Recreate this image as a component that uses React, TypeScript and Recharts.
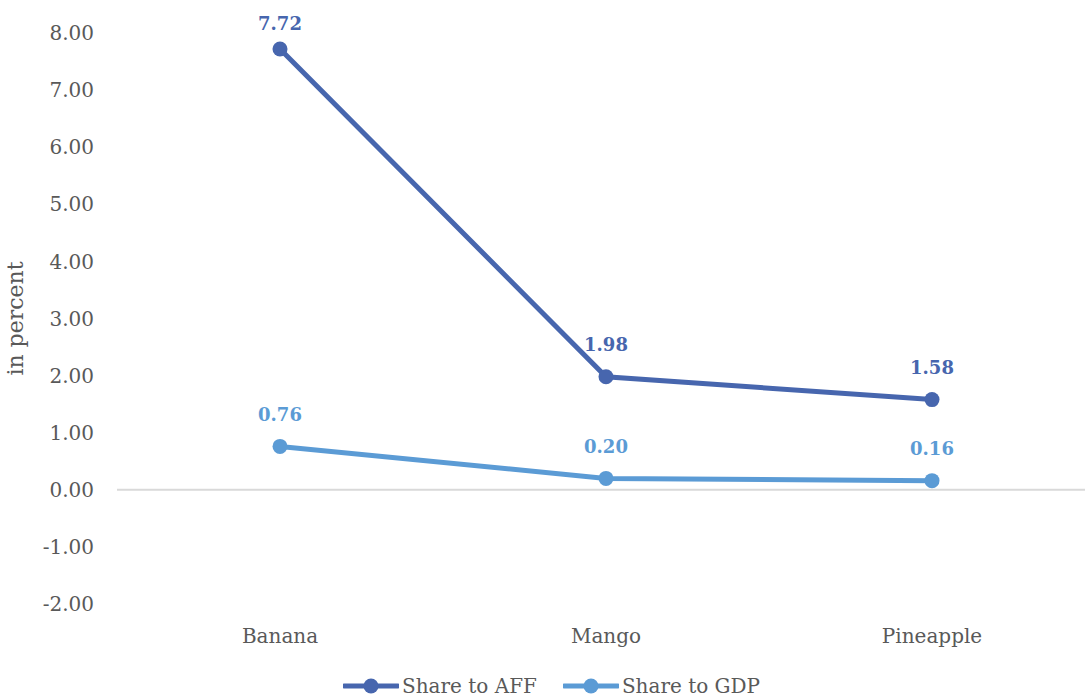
import { LineChart, Line, XAxis, YAxis, ReferenceLine, LabelList } from "recharts";

const crops = ["Banana", "Mango", "Pineapple"];
const shareAff = [7.72, 1.98, 1.58];
const shareGdp = [0.76, 0.2, 0.16];
const yTicks = [-2, -1, 0, 1, 2, 3, 4, 5, 6, 7, 8];

const AFF_COLOR = "#4766ae";
const GDP_COLOR = "#5b9bd5";
const TEXT_COLOR = "#595959";
const FONT = "'DejaVu Serif', serif";

const data = crops.map((name, i) => ({
  name,
  aff: shareAff[i],
  gdp: shareGdp[i],
}));

// value label sitting above each point, kept inside the top edge
const makeLabel = (color: string) => (props: any) => {
  const { x, y, value } = props;
  const ty = Math.max(y - 32, 23);
  return (
    <text
      x={x}
      y={ty}
      textAnchor="middle"
      dominantBaseline="central"
      fill={color}
      fontFamily={FONT}
      fontWeight="bold"
      fontSize={18}
    >
      {Number(value).toFixed(2)}
    </text>
  );
};

const legendItems = [
  { label: "Share to AFF", color: AFF_COLOR },
  { label: "Share to GDP", color: GDP_COLOR },
];

export default function App() {
  return (
    <div
      style={{
        width: 1085,
        height: 697,
        overflow: "hidden",
        position: "relative",
        background: "#fff",
      }}
    >
      <style>{"body{margin:0;overflow:hidden}"}</style>
      <LineChart
        width={1100}
        height={660}
        data={data}
        margin={{ top: 33, right: 5, left: 0, bottom: 0 }}
      >
        <XAxis
          dataKey="name"
          axisLine={false}
          tickLine={false}
          tickSize={0}
          tickMargin={25}
          height={56}
          padding={{ left: 163, right: 163 }}
          tick={{ fill: TEXT_COLOR, fontFamily: FONT, fontSize: 20 }}
        />
        <YAxis
          width={117}
          domain={[-2, 8]}
          ticks={yTicks}
          interval={0}
          axisLine={false}
          tickLine={false}
          tickSize={0}
          tickMargin={23}
          tickFormatter={(v: number) => v.toFixed(2)}
          tick={{ fill: TEXT_COLOR, fontFamily: FONT, fontSize: 20 }}
          label={{
            value: "in percent",
            angle: -90,
            position: "insideLeft",
            dx: 10,
            fill: TEXT_COLOR,
            fontFamily: FONT,
            fontSize: 22,
            style: { textAnchor: "middle" },
          }}
        />
        <ReferenceLine y={0} stroke="#d9d9d9" strokeWidth={2} />
        <Line
          dataKey="aff"
          stroke={AFF_COLOR}
          strokeWidth={5}
          dot={{ r: 7.5, fill: AFF_COLOR, stroke: "none" }}
          isAnimationActive={false}
        >
          <LabelList dataKey="aff" content={makeLabel(AFF_COLOR)} />
        </Line>
        <Line
          dataKey="gdp"
          stroke={GDP_COLOR}
          strokeWidth={5}
          dot={{ r: 7.5, fill: GDP_COLOR, stroke: "none" }}
          isAnimationActive={false}
        >
          <LabelList dataKey="gdp" content={makeLabel(GDP_COLOR)} />
        </Line>
      </LineChart>
      <div
        style={{
          position: "absolute",
          left: 343,
          top: 674,
          display: "flex",
          alignItems: "center",
          gap: 26,
          fontFamily: FONT,
          fontSize: 20,
          lineHeight: "24px",
          color: TEXT_COLOR,
        }}
      >
        {legendItems.map((item) => (
          <div key={item.label} style={{ display: "flex", alignItems: "center" }}>
            <svg width={56} height={16} style={{ marginRight: 3 }}>
              <line x1={1} y1={8} x2={55} y2={8} stroke={item.color} strokeWidth={5} strokeLinecap="round" />
              <circle cx={28} cy={8} r={7.5} fill={item.color} />
            </svg>
            <span>{item.label}</span>
          </div>
        ))}
      </div>
    </div>
  );
}
